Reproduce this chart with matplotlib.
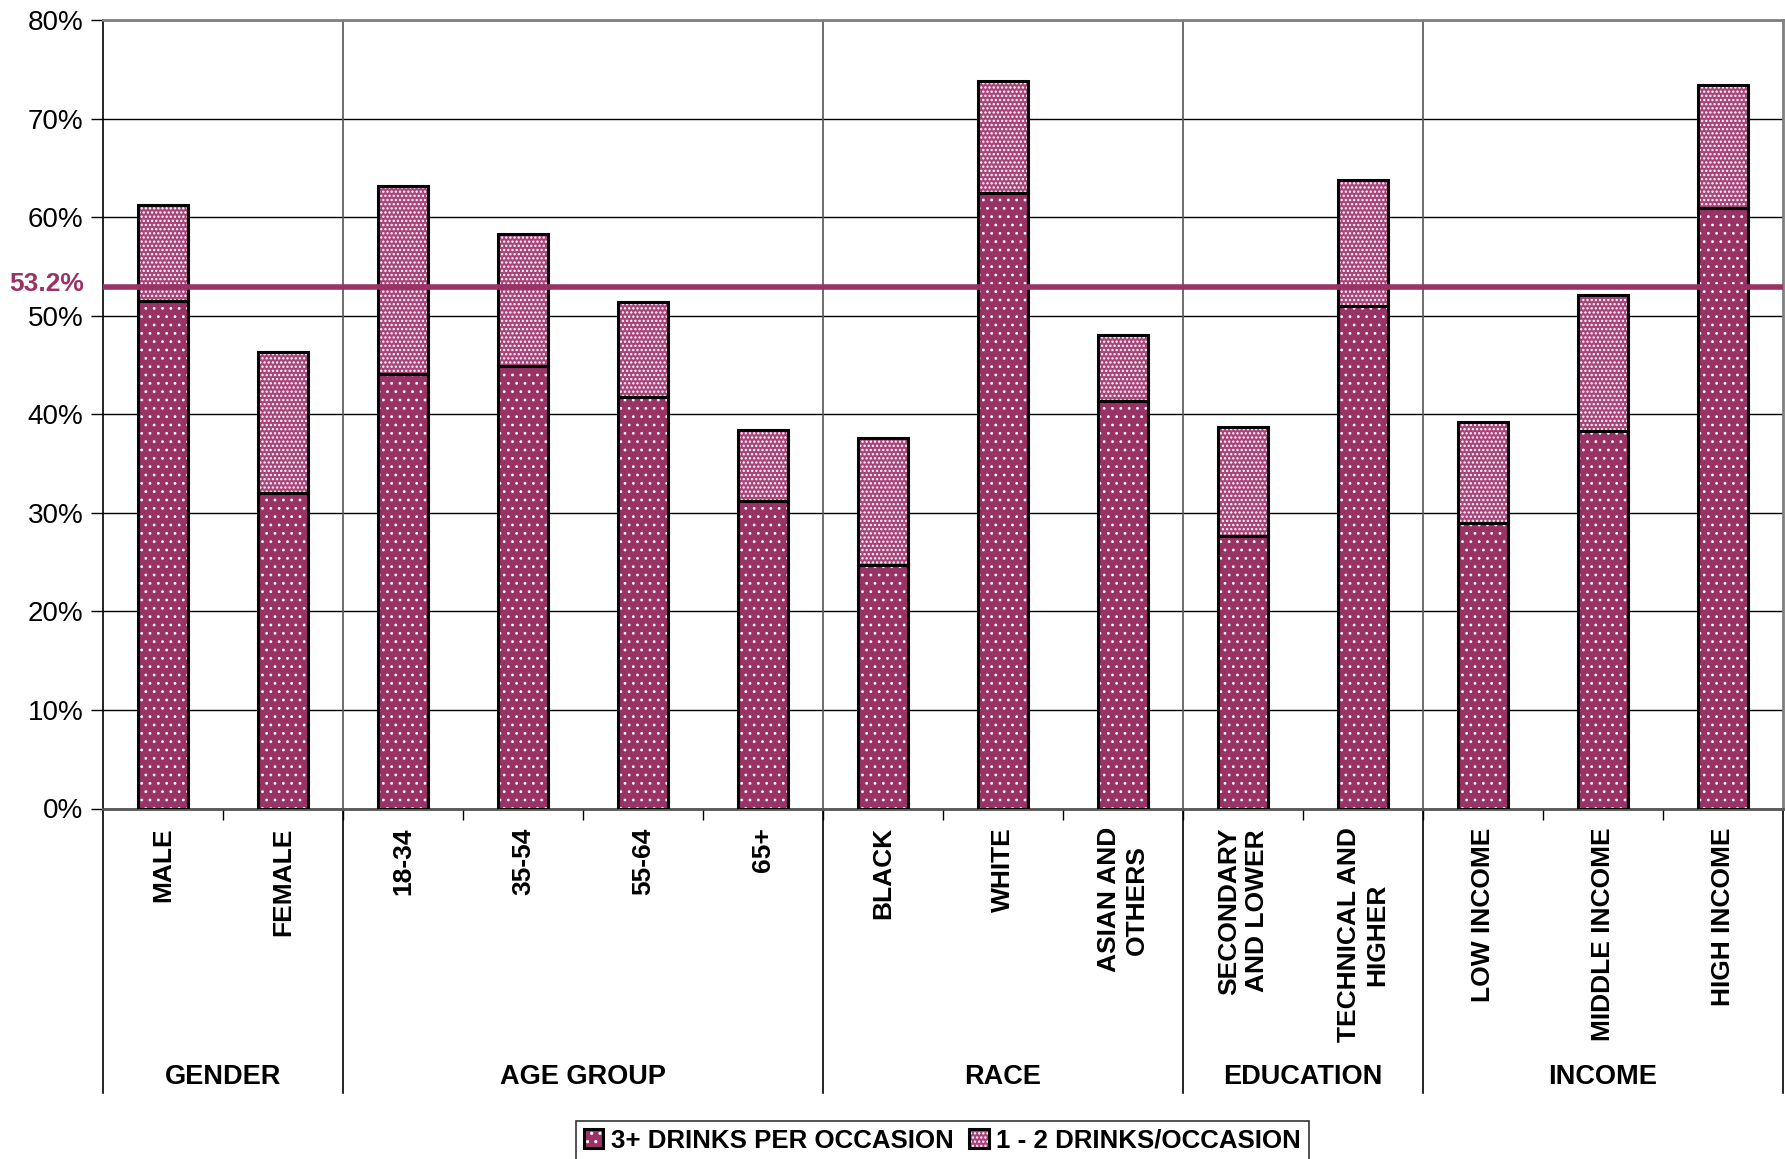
import matplotlib
matplotlib.use('Agg')
import matplotlib.pyplot as plt
import numpy as np
from matplotlib import transforms
from matplotlib.ticker import FixedLocator, FuncFormatter

plt.rcParams['font.family'] = ['Liberation Sans', 'DejaVu Sans']

# data (percent)
categories = ['MALE', 'FEMALE', '18-34', '35-54', '55-64', '65+', 'BLACK', 'WHITE',
              'ASIAN AND\nOTHERS', 'SECONDARY\nAND LOWER', 'TECHNICAL AND\nHIGHER',
              'LOW INCOME', 'MIDDLE INCOME', 'HIGH INCOME']
three_plus = [51.5, 32.0, 44.1, 44.9, 41.8, 31.2, 24.7, 62.4, 41.3, 27.6, 51.0, 29.0, 38.3, 60.9]
one_two = [9.7, 14.3, 19.1, 13.4, 9.6, 7.2, 12.9, 11.4, 6.7, 11.1, 12.8, 10.2, 13.8, 12.5]
groups = ['GENDER', 'AGE GROUP', 'RACE', 'EDUCATION', 'INCOME']
group_sizes = [2, 4, 3, 2, 3]
overall_label = 53.2
overall_line = 52.9   # where the line sits in the picture

plum = '#993366'

fig = plt.figure(figsize=(17.85, 11.59), dpi=100)
ax = fig.add_axes([103/1785, 350.5/1159, 1680/1785, 788.5/1159])

x = np.arange(len(categories))
w = 0.41

# hatched fills (white dots), then black outlines on top
plt.rcParams['hatch.linewidth'] = 0.8
b1 = ax.bar(x, three_plus, w, color=plum, hatch='..', edgecolor='white', linewidth=0, zorder=3)
plt.rcParams['hatch.linewidth'] = 1.1
b2 = ax.bar(x, one_two, w, bottom=three_plus, color='#a8447a', hatch='....', edgecolor='white',
            linewidth=0, zorder=3)
o1 = ax.bar(x, three_plus, w, fill=False, edgecolor='black', linewidth=2.2, zorder=4)
o2 = ax.bar(x, one_two, w, bottom=three_plus, fill=False, edgecolor='black', linewidth=2.2, zorder=4)

ax.axhline(overall_line, color=plum, lw=4, zorder=5)
tr = transforms.blended_transform_factory(ax.transAxes, ax.transData)
ax.text(-0.0113, overall_label, '%.1f%%' % overall_label, transform=tr, ha='right', va='center',
        color=plum, fontsize=19, fontweight='bold')

ax.set_xlim(-0.5, len(categories) - 0.5)
ax.set_ylim(0, 80)
ax.yaxis.set_major_locator(FixedLocator(np.arange(0, 81, 10)))
ax.yaxis.set_major_formatter(FuncFormatter(lambda v, p: '%d%%' % v))
ax.tick_params(axis='y', labelsize=20, length=9, width=1, pad=5)
ax.grid(axis='y', color='black', lw=1)
ax.set_axisbelow(True)

# ticks between categories, labels at centres
ax.xaxis.set_major_locator(FixedLocator(np.arange(0.5, len(categories) - 0.5, 1)))
ax.xaxis.set_major_formatter(FuncFormatter(lambda v, p: ''))
ax.xaxis.set_minor_locator(FixedLocator(x))
ax.set_xticklabels(categories, minor=True, rotation=90, fontsize=19, fontweight='bold')
ax.tick_params(axis='x', which='major', length=8, width=1, direction='out')
ax.tick_params(axis='x', which='minor', length=0, pad=13.5)
for lab in ax.get_xticklabels(minor=True):
    lab.set_verticalalignment('top')
    lab.set_multialignment('center')

for s in ['top', 'right']:
    ax.spines[s].set_color('#808080')
    ax.spines[s].set_linewidth(2)
ax.spines['bottom'].set_color('#555555')
ax.spines['bottom'].set_linewidth(2)
ax.spines['left'].set_color('black')
ax.spines['left'].set_linewidth(1.2)

# group separators and group names
xt = ax.get_xaxis_transform()
bounds = np.cumsum([0] + group_sizes) - 0.5
for b in bounds[1:-1]:
    ax.axvline(b, color='#555555', lw=1.2, zorder=1)
for b in bounds:
    ax.plot([b, b], [0, -0.361], transform=xt, color='black', lw=1.2, clip_on=False)
for g, lo, hi in zip(groups, bounds[:-1], bounds[1:]):
    ax.text((lo + hi) / 2, -0.3405, g, transform=xt, ha='center', va='center',
            fontsize=19.5, fontweight='bold')

leg = fig.legend([(b1[0], o1[0]), (b2[0], o2[0])],
                 ['3+ DRINKS PER OCCASION', '1 - 2 DRINKS/OCCASION'],
                 loc='upper center', bbox_to_anchor=(0.528, 1 - 1121/1159), ncol=2,
                 prop={'size': 18.6, 'weight': 'bold'}, fancybox=False, frameon=True,
                 edgecolor='black', handlelength=0.75, handleheight=0.75,
                 handletextpad=0.3, columnspacing=0.6, borderpad=0.3, borderaxespad=0)
leg.get_frame().set_linewidth(1.2)

fig.savefig('out.png', dpi=100)
